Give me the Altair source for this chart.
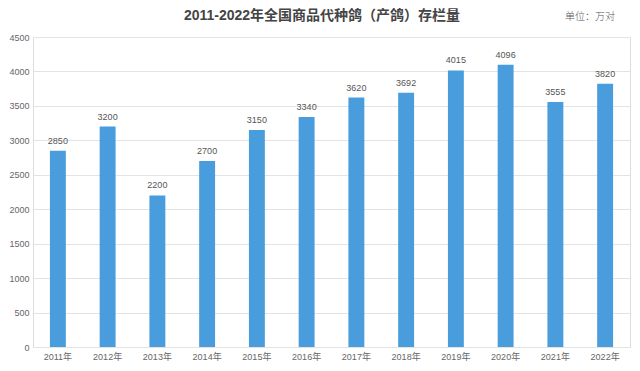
import altair as alt
import pandas as pd

years = ["2011年", "2012年", "2013年", "2014年", "2015年", "2016年",
         "2017年", "2018年", "2019年", "2020年", "2021年", "2022年"]
values = [2850, 3200, 2200, 2700, 3150, 3340, 3620, 3692, 4015, 4096, 3555, 3820]
y_ticks = [0, 500, 1000, 1500, 2000, 2500, 3000, 3500, 4000, 4500]
title_text = "2011-2022年全国商品代种鸽（产鸽）存栏量"
unit_text = "单位：万对"

df = pd.DataFrame({"year": years, "value": values})

FONT = "Liberation Sans, Noto Sans CJK SC"

base = alt.Chart(df).encode(
    x=alt.X("year:N", sort=years,
            scale=alt.Scale(paddingInner=0.68, paddingOuter=0.34),
            axis=alt.Axis(title=None, labelAngle=0, ticks=False, domain=False,
                          labelColor="#666666", labelFontSize=9, labelFont=FONT,
                          labelPadding=5)),
    y=alt.Y("value:Q",
            scale=alt.Scale(domain=[0, 4500], nice=False),
            axis=alt.Axis(title=None, values=y_ticks, format="d", ticks=False,
                          domain=False, labelColor="#666666", labelFontSize=9,
                          labelFont=FONT, labelPadding=4,
                          gridColor="#e3e3e3", gridWidth=1)),
)

bars = base.mark_bar(color="#4a9ddc")
labels = base.mark_text(dy=-10, fontSize=9, color="#555555", font=FONT).encode(
    text=alt.Text("value:Q", format="d"))

title = alt.Chart(pd.DataFrame({"t": [title_text]})).mark_text(
    fontSize=14, fontWeight="bold", color="#444444", font=FONT,
    align="center", baseline="middle"
).encode(text="t:N", x=alt.value(289), y=alt.value(-21))

unit = alt.Chart(pd.DataFrame({"t": [unit_text]})).mark_text(
    fontSize=10, color="#555555", font="Noto Sans CJK SC", fontWeight=300,
    align="left", baseline="middle"
).encode(text="t:N", x=alt.value(532), y=alt.value(-20))

chart = alt.layer(bars, labels, title, unit).properties(
    width=597, height=310,
    autosize=alt.AutoSizeParams(type="none"),
    padding={"left": 25, "top": 29, "right": 2, "bottom": 20},
).configure_view(stroke=None).configure(background="white")

chart.save("out.html", embed_options={"renderer": "svg", "actions": False})
